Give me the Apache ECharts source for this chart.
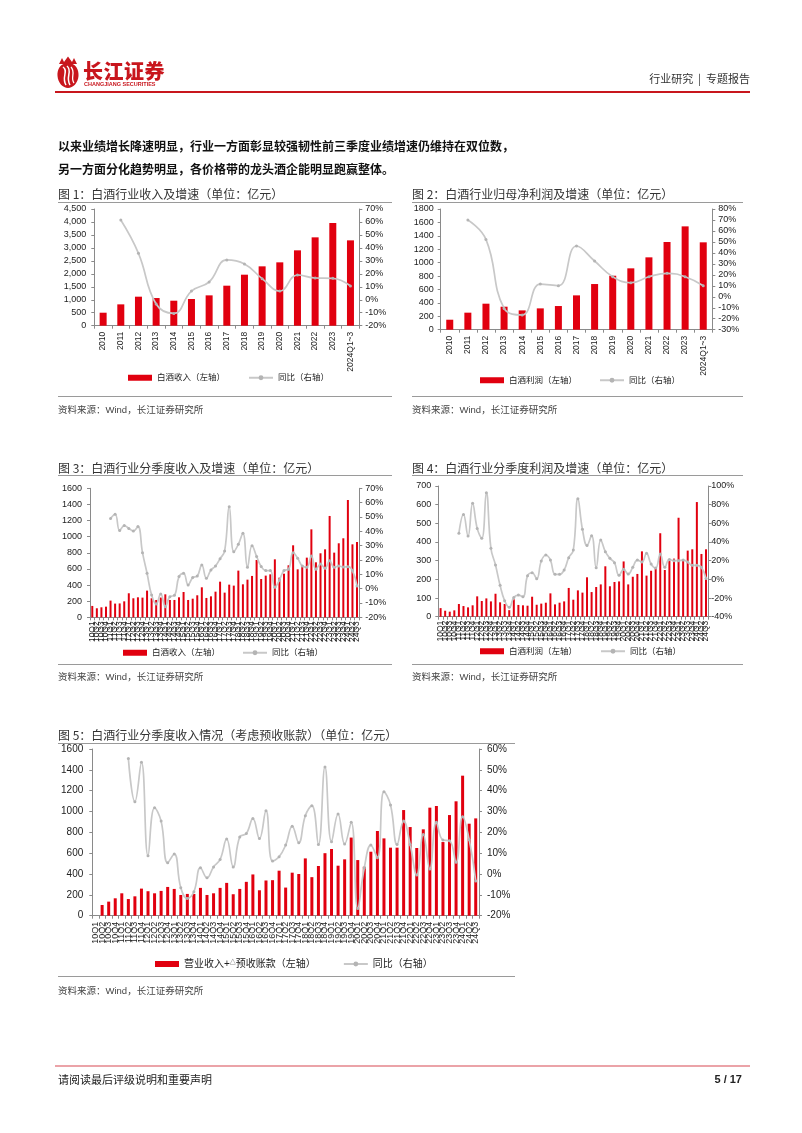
<!DOCTYPE html>
<html><head><meta charset="utf-8">
<script src="https://cdn.jsdelivr.net/npm/echarts/dist/echarts.min.js"></script>
<style>
body{margin:0;background:#fff;}
#page{position:relative;width:802px;height:1133px;overflow:hidden;font-family:"Noto Sans CJK SC","Liberation Sans",sans-serif;background:#fff;}
#chart{position:absolute;left:0;top:0;width:802px;height:1133px;}
.t{position:absolute;white-space:nowrap;}
.title{font-size:12px;line-height:12px;color:#333;}
.src{font-size:9.5px;line-height:10px;color:#444;font-family:"Liberation Sans","Noto Sans CJK SC",sans-serif;}
.hr{position:absolute;height:0;border-top:1.5px solid #9a9a9a;}
</style></head>
<body>
<div id="page">
  <div id="chart"></div>
  <!-- header -->
  <svg class="t" style="left:54px;top:56px" width="28" height="33" viewBox="0 0 28 33">
    <path d="M5 8 L8 2 L10 6 L14 0.5 L18 6 L20 2 L23 8 Z" fill="#c8161d"/>
    <path d="M14 7 C 6 7, 3 14, 3.5 20 C 4 27, 9 32, 14 32 C 19 32, 24 27, 24.5 20 C 25 14, 22 7, 14 7 Z" fill="#c8161d"/>
    <path d="M9 11 C 15 15, 7 21, 12 29" stroke="#fff" stroke-width="1.5" fill="none"/>
    <path d="M13 10 C 19 15, 11 21, 16 29" stroke="#fff" stroke-width="1.5" fill="none"/>
    <path d="M17 11 C 22 16, 16 22, 20 27" stroke="#fff" stroke-width="1.3" fill="none"/>
  </svg>
  <div class="t" style="left:83px;top:60px;font-size:20px;line-height:21px;font-weight:900;color:#c8161d;letter-spacing:0.5px;">长江证券</div>
  <div class="t" style="left:84px;top:81px;font-size:5.5px;line-height:6px;font-weight:700;color:#c8161d;font-family:'Liberation Sans',sans-serif;">CHANGJIANG SECURITIES</div>
  <div class="t" style="right:52px;top:72px;font-size:11px;line-height:12px;color:#333;">行业研究 &nbsp;|&nbsp; 专题报告</div>
  <div class="t" style="left:55px;top:91px;width:695px;height:2px;background:#c8161d;"></div>

  <div class="t" style="left:58px;top:139px;font-size:12px;line-height:13px;font-weight:700;color:#111;">以来业绩增长降速明显，行业一方面彰显较强韧性前三季度业绩增速仍维持在双位数，</div>
  <div class="t" style="left:58px;top:162px;font-size:12px;line-height:13px;font-weight:700;color:#111;">另一方面分化趋势明显，各价格带的龙头酒企能明显跑赢整体。</div>

  <!-- figure 1 -->
  <div class="t title" style="left:58px;top:188px;">图 1：白酒行业收入及增速（单位：亿元）</div>
  <div class="hr" style="left:58px;top:202px;width:334px;"></div>
  <div class="hr" style="left:58px;top:396px;width:334px;"></div>
  <div class="t src" style="left:58px;top:405px;">资料来源：Wind，长江证券研究所</div>
  <!-- figure 2 -->
  <div class="t title" style="left:412px;top:188px;">图 2：白酒行业归母净利润及增速（单位：亿元）</div>
  <div class="hr" style="left:412px;top:202px;width:331px;"></div>
  <div class="hr" style="left:412px;top:396px;width:331px;"></div>
  <div class="t src" style="left:412px;top:405px;">资料来源：Wind，长江证券研究所</div>
  <!-- figure 3 -->
  <div class="t title" style="left:58px;top:462px;">图 3：白酒行业分季度收入及增速（单位：亿元）</div>
  <div class="hr" style="left:58px;top:475px;width:334px;"></div>
  <div class="hr" style="left:58px;top:664px;width:334px;"></div>
  <div class="t src" style="left:58px;top:672px;">资料来源：Wind，长江证券研究所</div>
  <!-- figure 4 -->
  <div class="t title" style="left:412px;top:462px;">图 4：白酒行业分季度利润及增速（单位：亿元）</div>
  <div class="hr" style="left:412px;top:475px;width:331px;"></div>
  <div class="hr" style="left:412px;top:664px;width:331px;"></div>
  <div class="t src" style="left:412px;top:672px;">资料来源：Wind，长江证券研究所</div>
  <!-- figure 5 -->
  <div class="t title" style="left:58px;top:729px;">图 5：白酒行业分季度收入情况（考虑预收账款）（单位：亿元）</div>
  <div class="hr" style="left:58px;top:743px;width:457px;"></div>
  <div class="hr" style="left:58px;top:976px;width:457px;"></div>
  <div class="t src" style="left:58px;top:986px;">资料来源：Wind，长江证券研究所</div>

  <!-- footer -->
  <div class="t" style="left:55px;top:1065px;width:695px;height:1.5px;background:#eba3a8;"></div>
  <div class="t" style="left:58px;top:1073px;font-size:11px;line-height:12px;color:#222;">请阅读最后评级说明和重要声明</div>
  <div class="t" style="right:60px;top:1073px;font-size:11px;line-height:12px;color:#222;font-weight:700;font-family:'Liberation Sans',sans-serif;">5 / 17</div>
</div>
<script>
// ---------- data ----------
const years = ['2010','2011','2012','2013','2014','2015','2016','2017','2018','2019','2020','2021','2022','2023','2024Q1~3'];
const annualRevenue = [501, 823, 1119, 1067, 964, 1029, 1170, 1543, 1967, 2289, 2443, 2906, 3407, 3960, 3291];
const annualRevenueYoY = [null, 61.5, 35.8, -3.3, -10.5, 6.7, 13.7, 30.7, 27.6, 16.3, 6.7, 19.1, 16.8, 16.5, 10.6];
const annualProfit = [149, 254, 388, 343, 288, 318, 353, 512, 681, 805, 915, 1079, 1308, 1541, 1303];
const annualProfitYoY = [null, 70, 52.3, -10.6, -16.6, 11.6, 10.1, 46.3, 32.6, 18.3, 12.8, 18.3, 21.4, 18.3, 10.1];

const quarters = ['10Q1','10Q2','10Q3','10Q4','11Q1','11Q2','11Q3','11Q4','12Q1','12Q2','12Q3','12Q4',
  '13Q1','13Q2','13Q3','13Q4','14Q1','14Q2','14Q3','14Q4','15Q1','15Q2','15Q3','15Q4',
  '16Q1','16Q2','16Q3','16Q4','17Q1','17Q2','17Q3','17Q4','18Q1','18Q2','18Q3','18Q4',
  '19Q1','19Q2','19Q3','19Q4','20Q1','20Q2','20Q3','20Q4','21Q1','21Q2','21Q3','21Q4',
  '22Q1','22Q2','22Q3','22Q4','23Q1','23Q2','23Q3','23Q4','24Q1','24Q2','24Q3'];
const quarterRevenue = [141,112,124,132, 207,170,172,198, 298,236,248,244, 331,236,215,245,
  285,215,215,248, 314,215,231,273, 372,240,260,318, 442,306,405,393, 579,409,467,513,
  711,475,517,533, 719,492,541,645, 893,595,645,740, 1091,682,794,843, 1257,802,918,980, 1455,905,934];
const quarterRevenueYoY = [null,null,null,null, 49,51.9,40.5,44, 42,40.2,43.3,25.1, 10.7,-4.4,-10.7,-3.7,
  -12.6,-5.6,-4.7,8.4, 10.7,2.6,7.7,8.8, 16.5,7.2,13,15.8, 20.9,26.3,57.2,25.8, 30.9,38.6,14.9,30,
  22.5,15.5,12.6,12.6, 0.9,6,12.6,13.5, 25.1,21.2,15.8,14.9, 22.8,13.5,17.2,14.2, 19.5,14.9,15.8,15.1, 15.3,12.6,1.9];
const quarterProfit = [46,32,27,34, 68,57,50,61, 109,84,98,82, 123,77,68,35, 93,63,61,59,
  107,64,70,75, 125,66,75,82, 154,91,141,129, 211,132,159,173, 270,163,186,189,
  296,173,214,229, 350,220,246,263, 447,250,298,311, 530,304,354,361, 614,336,361];
const quarterProfitYoY = [null,null,null,null, 49.3,69.6,46.4,81.4, 54.6,43.9,92.9,33.2, 15.4,-6.4,-22.9,-30,
  -19.3,-16.8,-18.6,3.9, 7.1,0.7,19.6,26.1, 20.7,5.4,5.4,10, 23.2,31.4,86.4,53.6, 36.4,46.8,12.5,42.1,
  29.6,22.5,17.9,4.3, 10.7,5.7,12.9,20.7, 18.6,27.9,16.4,12.1, 27.1,12.9,21.4,20, 20,20.7,18.6,15, 15,12.9,1];
const adjRevenue = [null,103,135,167, 215,160,186,260, 235,215,238,276, 257,199,209,209,
  267,199,215,267, 315,206,257,325, 396,244,338,341, 432,270,413,400, 550,370,477,600,
  640,480,541,750, 534,470,614,813, 742,653,653,1014, 851,650,829,1037, 1053,707,966,1098, 1344,883,934];
const adjRevenueYoY = [null,null,null,null, null,55.5,34.7,53.6, 8.8,31.8,25.4,5.4, 9.6,-6.6,-11.7,-8.5,
  3,-1.8,3.4,7, 16.8,3.4,17.8,19.4, 26.6,17,30.4,6.2, 8.3,13.9,22.9,15, 28,32.8,14.2,51.4,
  15.5,28.8,14.4,24.8, -16.5,3,13.9,7.8, 39.5,33.1,14.2,25.4, 14.2,-0.5,19,2.4, 24.8,16.3,16,5.6, 27.5,16.5,-3.4];

const yoyName = '同比（右轴）';
const revName = '白酒收入（左轴）';
const profitName = '白酒利润（左轴）';
const adjName = '营业收入+△预收账款（左轴）';

// ---------- styling ----------
const FONT = 'Arial, "Liberation Sans", "Noto Sans CJK SC", sans-serif';
const RED = '#e1000f';
const AXIS = '#8a8a8a';

const panels = [
  {grid:{left:94.3, top:209, width:265, height:116.7}, cats:years, bars:annualRevenue, line:annualRevenueYoY, barName:revName,
   L:[0,4500,500], R:[-20,70,10], comma:true, barWidth:7, xfs:8.5, yfs:9, lfs:8.5, xm:6, lm:8, rm:6, legend:{left:128, top:373.5, gap:23}},
  {grid:{left:440.7, top:209, width:271.6, height:120.7}, cats:years, bars:annualProfit, line:annualProfitYoY, barName:profitName,
   L:[0,1800,200], R:[-30,80,10], comma:false, barWidth:7, xfs:8.5, yfs:9, lfs:8.5, xm:6, lm:7, rm:6, legend:{left:480, top:376, gap:22}},
  {grid:{left:90, top:488.3, width:269.3, height:129}, cats:quarters, bars:quarterRevenue, line:quarterRevenueYoY, barName:revName,
   L:[0,1600,200], R:[-20,70,10], comma:false, barWidth:2, xfs:8.5, yfs:9, lfs:8.5, xm:4, lm:8, rm:6, legend:{left:123, top:648.5, gap:22}},
  {grid:{left:438.3, top:486, width:270, height:130.7}, cats:quarters, bars:quarterProfit, line:quarterProfitYoY, barName:profitName,
   L:[0,700,100], R:[-40,100,20], comma:false, barWidth:2, xfs:8.5, yfs:9, lfs:8.5, xm:4, lm:7, rm:3, legend:{left:480, top:647, gap:23}},
  {grid:{left:92.3, top:749, width:386.7, height:166.7}, cats:quarters, bars:adjRevenue, line:adjRevenueYoY, barName:adjName,
   L:[0,1600,200], R:[-20,60,10], comma:false, barWidth:3, xfs:9, yfs:10, lfs:10, xm:6, lm:9, rm:8, legend:{left:155, top:959, gap:27}}
];

const option = {animation:false, grid:[], xAxis:[], yAxis:[], series:[], legend:[]};
panels.forEach((p, k) => {
  option.grid.push(Object.assign({containLabel:false}, p.grid));
  option.xAxis.push({type:'category', gridIndex:k, data:p.cats, boundaryGap:true,
    axisLine:{show:true, lineStyle:{color:AXIS, width:1}},
    axisTick:{show:true, length:3, alignWithLabel:false, lineStyle:{color:AXIS}},
    axisLabel:{rotate:90, interval:0, fontSize:p.xfs, color:'#222', fontFamily:FONT, margin:p.xm}});
  option.yAxis.push({type:'value', gridIndex:k, position:'left', min:p.L[0], max:p.L[1], interval:p.L[2],
    splitLine:{show:false}, axisLine:{show:true, lineStyle:{color:AXIS}},
    axisTick:{show:true, length:3, lineStyle:{color:AXIS}},
    axisLabel:{fontSize:p.yfs, color:'#222', fontFamily:FONT, margin:p.lm,
      formatter: v => p.comma ? v.toLocaleString('en-US') : String(v)}});
  option.yAxis.push({type:'value', gridIndex:k, position:'right', min:p.R[0], max:p.R[1], interval:p.R[2],
    splitLine:{show:false}, axisLine:{show:true, lineStyle:{color:AXIS}},
    axisTick:{show:true, length:3, lineStyle:{color:AXIS}},
    axisLabel:{fontSize:p.yfs, color:'#222', fontFamily:FONT, margin:p.rm, formatter: v => v + '%'}});
  option.series.push({type:'bar', name:p.barName, xAxisIndex:k, yAxisIndex:2*k, data:p.bars,
    barWidth:p.barWidth, itemStyle:{color:RED}});
  option.series.push({type:'line', name:yoyName, xAxisIndex:k, yAxisIndex:2*k+1, data:p.line,
    smooth:0.45, symbol:'circle', symbolSize:3, showSymbol:true,
    lineStyle:{color:'#c8c8c8', width:1.7}, itemStyle:{color:'#b4b4b4'}});
  option.legend.push({left:p.legend.left, top:p.legend.top, padding:0, itemWidth:24, itemHeight:6, itemGap:p.legend.gap,
    selectedMode:false,
    textStyle:{fontSize:p.lfs, color:'#222', fontFamily:FONT, rich:{s:{fontSize:p.lfs*0.6, color:'#222', verticalAlign:'top', padding:[0,0,3,0]}}},
    formatter: n => n.replace('△', '{s|△}'),
    data:[{name:p.barName, icon:'rect'}, {name:yoyName, itemStyle:{color:'#b4b4b4'}}]});
});

const chart = echarts.init(document.getElementById('chart'), null, {renderer:'canvas'});
chart.setOption(option);
</script>
</body></html>
